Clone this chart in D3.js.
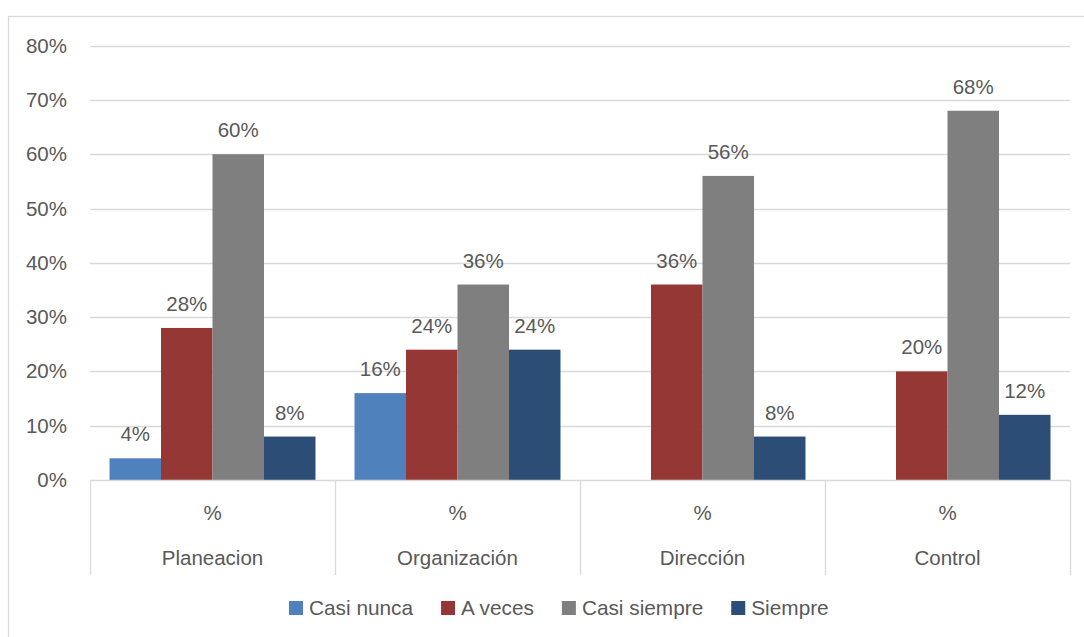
<!DOCTYPE html>
<html><head><meta charset="utf-8">
<script src="https://cdn.jsdelivr.net/npm/d3@7"></script>
<style>html,body{margin:0;padding:0;background:#fff;}svg{display:block;}</style>
</head><body>
<script>
const categories = ["Planeacion", "Organización", "Dirección", "Control"];
const subLabels = ["%", "%", "%", "%"];
const seriesNames = ["Casi nunca", "A veces", "Casi siempre", "Siempre"];
const casiNunca = [0.04, 0.16, null, null];
const aVeces = [0.28, 0.24, 0.36, 0.20];
const casiSiempre = [0.60, 0.36, 0.56, 0.68];
const siempre = [0.08, 0.24, 0.08, 0.12];
const yTicks = [0, 0.1, 0.2, 0.3, 0.4, 0.5, 0.6, 0.7, 0.8];
const colors = ["#4F81BD", "#953735", "#7F7F7F", "#2C4D75"];

const seriesValues = [casiNunca, aVeces, casiSiempre, siempre];
const W = 1084, H = 637;
const FONT = "'Liberation Sans', Arial, sans-serif";
const TXT = "#595959";
const GRID = "#D9D9D9";

const svg = d3.select("body").append("svg").attr("width", W).attr("height", H);
svg.append("rect").attr("width", W).attr("height", H).attr("fill", "#fff");
svg.append("rect").attr("x", 8.5).attr("y", 16.5).attr("width", 1100).attr("height", 700)
  .attr("fill", "none").attr("stroke", GRID).attr("stroke-width", 1.3);

const plot = {left: 90, right: 1070, top: 45.6, bottom: 480};
const x0 = d3.scaleBand().domain(categories).range([plot.left, plot.right]).padding(0);
const x1 = d3.scaleBand().domain(seriesNames).range([0, x0.bandwidth()]).paddingInner(0).paddingOuter(0.379);
const y = d3.scaleLinear().domain([0, 0.8]).range([plot.bottom, plot.top]);
const fmt = d3.format(".0%");

// gridlines
svg.append("g").selectAll("line").data(yTicks.filter(t => t > 0)).join("line")
  .attr("x1", plot.left).attr("x2", plot.right)
  .attr("y1", d => Math.round(y(d)) + 0.5).attr("y2", d => Math.round(y(d)) + 0.5)
  .attr("stroke", GRID).attr("stroke-width", 1.3);

// y axis labels
const yAxis = d3.axisLeft(y).tickValues(yTicks).tickFormat(fmt).tickSize(0).tickPadding(23);
const yg = svg.append("g").attr("transform", `translate(${plot.left},0)`).call(yAxis);
yg.select(".domain").remove();
yg.selectAll("text").attr("font-family", FONT).attr("font-size", 20.5).attr("fill", TXT);

// bars
const groups = svg.append("g").selectAll("g").data(categories).join("g")
  .attr("transform", d => `translate(${x0(d)},0)`);
groups.each(function(cat, ci) {
  const data = seriesNames.map((s, si) => ({s, si, v: seriesValues[si][ci]})).filter(d => d.v != null);
  const g = d3.select(this);
  g.selectAll("rect").data(data).join("rect")
    .attr("x", d => x1(d.s)).attr("width", x1.bandwidth())
    .attr("y", d => y(d.v)).attr("height", d => y(0) - y(d.v))
    .attr("fill", d => colors[d.si]);
  g.selectAll("text").data(data).join("text")
    .attr("x", d => x1(d.s) + x1.bandwidth() / 2)
    .attr("y", d => y(d.v) - 17)
    .attr("text-anchor", "middle")
    .attr("font-family", FONT).attr("font-size", 20.5).attr("fill", TXT)
    .text(d => fmt(d.v));
});

// category axis
const ax = svg.append("g");
ax.append("line").attr("x1", plot.left).attr("x2", plot.right)
  .attr("y1", plot.bottom + 0.5).attr("y2", plot.bottom + 0.5)
  .attr("stroke", GRID).attr("stroke-width", 1.3);
const bounds = categories.map(c => x0(c)).concat([plot.right]);
ax.selectAll("line.sep").data(bounds).join("line").attr("class", "sep")
  .attr("x1", d => Math.round(d) + 0.5).attr("x2", d => Math.round(d) + 0.5)
  .attr("y1", plot.bottom).attr("y2", 575)
  .attr("stroke", GRID).attr("stroke-width", 1.3);
ax.selectAll("text.sub").data(categories).join("text").attr("class", "sub")
  .attr("x", d => x0(d) + x0.bandwidth() / 2).attr("y", 520)
  .attr("text-anchor", "middle").attr("font-family", FONT).attr("font-size", 20.5).attr("fill", TXT)
  .text((d, i) => subLabels[i]);
ax.selectAll("text.cat").data(categories).join("text").attr("class", "cat")
  .attr("x", d => x0(d) + x0.bandwidth() / 2).attr("y", 565)
  .attr("text-anchor", "middle").attr("font-family", FONT).attr("font-size", 20.5).attr("fill", TXT)
  .text(d => d);

// legend
const leg = svg.append("g");
let lx = 289;
const ly = 608;
seriesNames.forEach((s, i) => {
  leg.append("rect").attr("x", lx).attr("y", ly - 7).attr("width", 14).attr("height", 14).attr("fill", colors[i]);
  const t = leg.append("text").attr("x", lx + 20).attr("y", ly + 7)
    .attr("font-family", FONT).attr("font-size", 20.8).attr("fill", TXT).text(s);
  const w = t.node().getComputedTextLength();
  lx = lx + 20 + w + 28;
});
</script>
</body></html>
